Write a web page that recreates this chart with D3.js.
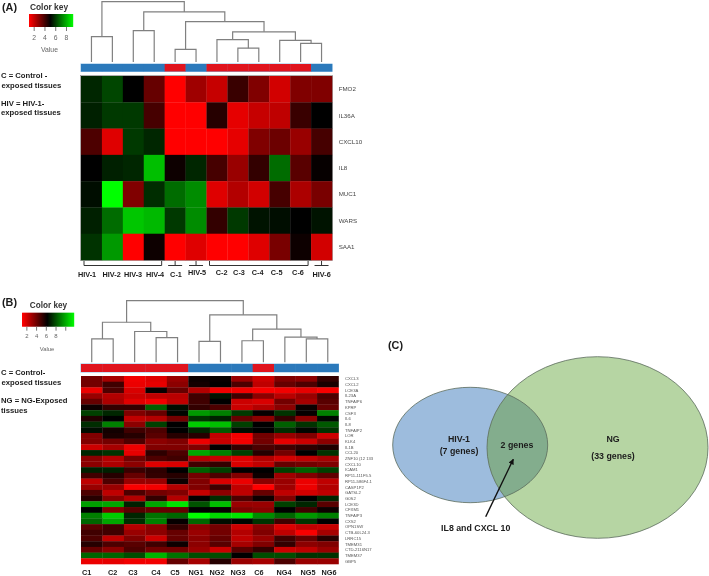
<!DOCTYPE html>
<html><head><meta charset="utf-8">
<script src="https://cdn.jsdelivr.net/npm/d3@7/dist/d3.min.js"></script>
<style>html,body{margin:0;padding:0;background:#fff}svg{display:block;filter:blur(.45px)}text{font-family:"Liberation Sans",Arial,sans-serif}</style>
</head><body><svg id="c" width="709" height="576"></svg>
<script>
const samplesA=["HIV-1","HIV-2","HIV-3","HIV-4","C-1","HIV-5","C-2","C-3","C-4","C-5","C-6","HIV-6"];
const groupsA=["H","H","H","H","C","H","C","C","C","C","C","H"];
const genesA=["FMO2","IL36A","CXCL10","IL8","MUC1","WARS","SAA1"];
const valuesA=[
[5.6,6.1,5.0,3.4,1.0,2.5,1.9,4.1,3.0,1.7,3.0,3.0],
[5.5,5.9,5.9,3.9,1.0,1.0,4.4,1.4,1.9,2.0,4.1,5.0],
[3.8,1.5,5.9,5.6,1.0,1.0,1.0,1.4,3.0,3.3,2.6,3.9],
[5.0,5.5,5.6,8.0,4.8,5.6,3.9,2.6,4.2,6.7,3.6,4.9],
[5.2,9.0,3.0,5.7,6.7,7.2,1.5,2.2,1.7,3.9,2.3,3.1],
[5.5,6.7,8.1,7.9,5.9,7.2,4.2,5.9,5.3,5.2,5.0,5.3],
[5.8,7.4,1.0,4.8,1.0,1.5,1.0,1.0,1.5,3.1,4.8,1.7]];
// dendrogram merges: [left, right, height]; negative = leaf -(i+1), positive = earlier merge index + 1
const mergesA=[[-1,-2,4.2],[-3,-4,5.2],[-5,-6,2.1],[-8,-9,2.3],[-7,4,3.7],[-11,-12,3.1],[-10,6,3.6],[5,7,5.0],[3,8,6.7],[2,9,8.3],[1,10,10]];
const samplesB=["C1","C2","C3","C4","C5","NG1","NG2","NG3","C6","NG4","NG5","NG6"];
const groupsB=["C","C","C","C","C","N","N","N","C","N","N","N"];
const genesB=["CXCL3","CXCL2","LCE3A","IL23A","TNFAIP6","KPRP","CSF3","IL6","IL8","TNFAIP2","LOR","KLK4","IL1B","CCL20","ZNF10 (12 133","CXCL10","ICAM1","RP11-111F5.5","RP11-586F4.1","CASP1P2","GATSL2","G0S2","LCE3D","CFXM1","TNFAIP3","CXS2","OPN1SW","CTB-60L24.3","LRRC15","TMEM31","CTD-2116N17","TMEM37","GBP5"];
const valuesB=[
[3.2,2.4,1.2,1.5,2.6,4.8,4.9,2.6,1.8,3.0,2.8,4.2],
[3.2,4.0,1.3,1.4,2.8,4.7,5.0,3.8,2.0,3.4,3.8,4.6],
[1.3,3.8,1.6,4.9,3.4,2.2,1.3,1.2,1.1,1.2,1.4,1.1],
[2.6,2.2,1.8,2.0,2.1,4.0,5.3,4.0,2.8,2.1,2.6,3.8],
[3.4,2.3,1.5,1.2,2.0,4.0,5.0,1.8,1.6,3.2,2.4,3.6],
[4.8,4.2,4.2,6.5,5.2,4.2,3.8,1.8,2.2,2.8,4.8,3.4],
[6.0,5.6,3.0,3.4,5.1,7.4,7.0,5.9,4.9,5.8,4.9,7.0],
[4.5,5.0,2.0,2.2,3.2,5.8,5.5,3.4,2.8,4.2,2.8,5.1],
[5.7,7.0,2.8,6.0,5.0,8.2,8.0,6.0,5.0,6.5,5.8,6.4],
[5.2,4.7,4.0,3.8,5.0,5.6,6.4,5.2,5.0,5.7,5.1,5.8],
[3.0,4.6,4.4,3.6,4.4,4.4,2.0,1.2,3.2,2.6,3.0,1.8],
[3.0,3.2,3.8,2.8,3.0,1.3,1.9,1.2,3.2,1.4,1.8,2.8],
[1.8,2.4,1.3,3.0,3.0,3.0,5.0,4.2,3.8,4.0,4.3,4.5],
[5.6,5.8,1.4,4.3,3.8,7.6,7.0,6.0,4.4,3.2,5.0,5.8],
[2.8,2.2,3.2,3.8,4.0,2.2,1.9,1.5,2.2,1.7,2.0,2.4],
[2.8,2.3,2.8,1.5,1.6,4.0,4.2,1.6,2.0,3.4,3.2,3.0],
[5.5,5.5,4.1,4.3,5.0,6.5,6.0,5.0,5.0,6.0,6.5,6.0],
[4.0,4.4,3.4,4.2,4.4,3.2,3.8,3.0,4.8,2.5,3.0,3.5],
[2.0,3.8,2.6,2.6,4.8,3.0,1.6,1.3,2.8,2.6,1.3,2.0],
[2.6,2.6,1.1,1.2,2.2,3.0,4.0,2.0,1.0,2.5,1.3,2.2],
[3.8,2.0,3.8,3.2,3.0,1.9,2.8,2.0,3.4,2.0,1.7,2.0],
[4.4,2.9,2.2,4.2,2.2,4.9,5.7,3.8,4.8,3.0,5.0,5.6],
[7.5,7.6,5.5,7.6,8.6,6.3,8.0,2.6,2.6,6.0,5.6,3.6],
[5.0,3.0,3.6,3.4,3.4,5.0,4.9,3.0,2.8,5.0,4.0,4.8],
[7.0,8.2,5.6,6.8,6.6,9.2,8.4,8.6,7.2,6.6,7.4,7.0],
[6.6,7.6,5.7,7.0,4.9,6.6,5.2,5.1,5.8,4.0,5.8,5.0],
[3.6,4.0,2.2,2.8,4.2,2.8,3.2,1.8,2.8,1.6,2.0,1.9],
[4.0,4.0,2.6,2.8,3.4,2.6,3.2,2.2,3.0,2.0,1.1,2.4],
[3.8,2.0,3.0,1.8,3.4,2.8,3.4,2.0,2.6,4.0,3.4,4.4],
[4.4,3.8,3.6,4.0,4.8,2.8,3.6,2.4,3.0,4.2,2.8,3.0],
[3.4,2.8,3.8,3.2,3.2,2.6,1.8,3.6,4.2,1.8,2.0,2.6],
[6.6,6.6,6.2,7.8,6.8,6.2,6.2,5.0,6.2,6.2,5.8,5.8],
[1.3,1.4,1.2,1.2,3.4,2.4,4.4,2.6,2.4,3.8,2.6,2.6]];
const mergesB=[[-1,-2,3.8],[-4,-5,4.0],[-3,2,5.0],[1,3,6.5],[-6,-7,3.4],[-8,-9,3.5],[-11,-12,3.8],[-10,7,4.1],[6,8,5.4],[5,9,7.7],[4,10,10]];
const labelsA=[["HIV-1",87,277],["HIV-2",111.7,277],["HIV-3",133,277],["HIV-4",155,277],["C-1",176,277],["HIV-5",197,275.3],["C-2",221.7,274.8],["C-3",239,274.8],["C-4",257.7,274.8],["C-5",276.7,274.8],["C-6",298,274.8],["HIV-6",321.7,277]];
const labelsB=[["C1",86.7,575],["C2",112.7,575],["C3",133,575],["C4",156,575],["C5",175,574.5],["NG1",196,574.5],["NG2",217,574.5],["NG3",238,574.5],["C6",259,575],["NG4",284,575],["NG5",308,574.5],["NG6",329,574.5]];
const bracketsA=[[0,3],[4,4],[5,5],[6,10],[11,11]];
const keyTicksA=[2,4,6,8], keyTicksB=[2,4,6,8,10];

const svg=d3.select("#c");
const heatColor=d3.scaleLinear().domain([1,5,9]).range(["#ff0000","#000000","#00ff00"]).clamp(true);
const sideCol={H:"#2b79bb",N:"#2b79bb",C:"#e0141e"};

function dendro(merges,x,y,stroke){
  const pos=[];
  const at=r=>r<0?{x:x(-r-1),h:null}:pos[r-1];
  const line=d3.line();
  merges.forEach(([a,b,h])=>{
    const A=at(a),B=at(b);
    const y0=A.h===null?y(0):y(A.h), y1=B.h===null?y(0):y(B.h);
    svg.append("path").attr("d",line([[A.x,y0],[A.x,y(h)],[B.x,y(h)],[B.x,y1]])).attr("fill","none").attr("stroke",stroke).attr("stroke-width",1.2);
    pos.push({x:(A.x+B.x)/2,h});
  });
}
function heat(values,genes,x,y,color,fs,lx,lc){
  values.forEach((row,r)=>row.forEach((v,c)=>{
    svg.append("rect").attr("x",x(c)).attr("y",y(genes[r])).attr("width",x.bandwidth()+.3).attr("height",y.bandwidth()+.3).attr("fill",color(v));
  }));
  svg.append("g").selectAll("text").data(genes).join("text").attr("x",lx).attr("y",d=>y(d)+y.bandwidth()/2).attr("dy",".35em").attr("font-size",fs).attr("fill",lc).text(d=>d);
}
function side(groups,x,y0,h){
  svg.append("rect").attr("x",x.range()[0]-.5).attr("y",y0-.5).attr("width",x.range()[1]-x.range()[0]+1).attr("height",h+1).attr("fill","#8fbfe6");
  groups.forEach((g,i)=>svg.append("rect").attr("x",x(i)).attr("y",y0).attr("width",x.bandwidth()+.3).attr("height",h).attr("fill",sideCol[g]));
}
function key(domain,stops,x0,x1,y0,y1,ticks,pad,fs){
  const s=d3.scaleLinear().domain(domain).range([x0,x1]);
  const col=d3.scaleLinear().domain(stops).range(["#ff0000","#000000","#00ff00"]);
  d3.range(x0,x1,1).forEach(px=>svg.append("rect").attr("x",px).attr("y",y0).attr("width",1.2).attr("height",y1-y0).attr("fill",col(s.invert(px))));
  const ax=d3.axisBottom(s).tickValues(ticks).tickSize(4).tickPadding(pad).tickFormat(d=>d===10?"":d);
  const g=svg.append("g").attr("transform",`translate(0,${y1})`).call(ax);
  g.select(".domain").remove();
  g.selectAll("line").attr("stroke","#777");
  g.selectAll("text").attr("font-size",fs).attr("fill","#666").attr("font-family","Liberation Sans");
  return s;
}
function txt(t,x,y,fs,o={}){
  return svg.append("text").attr("x",x).attr("y",y).attr("font-size",fs).attr("font-weight",o.w||"bold").attr("fill",o.c||"#1c1c1c").attr("text-anchor",o.a||"start").attr("font-family",o.f||null).text(t);
}

/* Panel A */
const xA=d3.scaleBand().domain(d3.range(12)).range([81,332]);
const cxA=i=>xA(i)+xA.bandwidth()/2;
const rowA=d3.scaleBand().domain(genesA).range([76,260]);
dendro(mergesA,cxA,d3.scaleLinear().domain([0,10]).range([62,1.7]),"#808080");
side(groupsA,xA,64,7.5);
svg.append("rect").attr("x",80.5).attr("y",75.5).attr("width",252).attr("height",185).attr("fill","none").attr("stroke","#9a9a9a").attr("stroke-width",.8);
heat(valuesA,genesA,xA,rowA,heatColor,6.2,338.7,"#444");
key([1.13,9.3],[1.13,5,9.3],29,73,14,27,keyTicksA,4,6.8);
txt("Color key",49,10,8.4).attr("text-anchor","middle").attr("fill","#333");
txt("Value",49.5,51.8,6.8,{w:"normal",a:"middle",c:"#666"});
txt("(A)",2,11,10.8);
txt("C = Control -",1,78,7.7);
txt("exposed tissues",1.5,87.5,7.7);
txt("HIV = HIV-1-",1,105.5,7.7);
txt("exposed tissues",1,115,7.7);
bracketsA.forEach(([a,b])=>{
  const multi=a!==b, line=d3.line();
  const y1=265.5;
  if(multi){
    const l=xA(a)+3, r=xA(b)+xA.bandwidth()-3;
    svg.append("path").attr("d",line([[l,261],[l,y1],[r,y1],[r,261]])).attr("fill","none").attr("stroke","#333").attr("stroke-width",1);
  }else{
    const c=cxA(a);
    svg.append("path").attr("d",line([[c,261],[c,y1]])+line([[c-7,y1],[c+7,y1]])).attr("fill","none").attr("stroke","#333").attr("stroke-width",1);
  }
});
svg.append("g").selectAll("text").data(labelsA).join("text").attr("x",d=>d[1]).attr("y",d=>d[2]).attr("text-anchor","middle").attr("font-size",7.3).attr("font-weight","bold").attr("fill","#1c1c1c").text(d=>d[0]);

/* Panel B */
const xB=d3.scaleBand().domain(d3.range(12)).range([81,338.5]);
const cxB=i=>xB(i)+xB.bandwidth()/2;
const rowB=d3.scaleBand().domain(genesB).range([376,564]);
dendro(mergesB,cxB,d3.scaleLinear().domain([0,10]).range([362.3,300.7]),"#808080");
side(groupsB,xB,364,8);
heat(valuesB,genesB,xB,rowB,heatColor,4.2,345,"#555");
key([1.1,11.8],[1.1,6.2,11.8],22,74,312.7,326.7,keyTicksB,3.5,6);
txt("Color key",48.5,308.3,8.2).attr("text-anchor","middle").attr("fill","#333");
txt("Value",47,351.3,5.9,{w:"normal",a:"middle",c:"#666"});
txt("(B)",2,306,10.8);
txt("C = Control-",1,375,7.7);
txt("exposed tissues",1.5,384.5,7.7);
txt("NG = NG-Exposed",1,402.7,7.7);
txt("tissues",1,412.5,7.7);
svg.append("g").selectAll("text").data(labelsB).join("text").attr("x",d=>d[1]).attr("y",d=>d[2]).attr("text-anchor","middle").attr("font-size",7.3).attr("font-weight","bold").attr("fill","#1c1c1c").text(d=>d[0]);

/* Panel C */
const vennSets=[{n:"HIV-1",cx:470.2,cy:445,rx:77.5,ry:57.7,f:"#9dbcdd"},{n:"NG",cx:597.5,cy:447.5,rx:110.5,ry:90.8,f:"#b6d5a3"}];
const defs=svg.append("defs");
defs.append("clipPath").attr("id","cb").append("ellipse").attr("cx",vennSets[0].cx).attr("cy",vennSets[0].cy).attr("rx",vennSets[0].rx).attr("ry",vennSets[0].ry);
defs.append("marker").attr("id","ah").attr("viewBox","0 0 10 10").attr("refX",9).attr("refY",5).attr("markerWidth",4).attr("markerHeight",4).attr("orient","auto").append("path").attr("d","M0,0L10,5L0,10z").attr("fill","#111");
svg.selectAll(".v").data(vennSets).join("ellipse").attr("class","v").attr("cx",d=>d.cx).attr("cy",d=>d.cy).attr("rx",d=>d.rx).attr("ry",d=>d.ry).attr("fill",d=>d.f);
svg.append("ellipse").datum(vennSets[1]).attr("clip-path","url(#cb)").attr("cx",d=>d.cx).attr("cy",d=>d.cy).attr("rx",d=>d.rx).attr("ry",d=>d.ry).attr("fill","#83ad8d");
svg.selectAll(".o").data(vennSets).join("ellipse").attr("class","o").attr("cx",d=>d.cx).attr("cy",d=>d.cy).attr("rx",d=>d.rx).attr("ry",d=>d.ry).attr("fill","none").attr("stroke","#5a6b5c").attr("stroke-width",.8);
svg.append("path").attr("d",d3.line()([[485.7,516.7],[513.3,459.3]])).attr("stroke","#111").attr("stroke-width",1.4).attr("marker-end","url(#ah)").attr("fill","none");
const cf='"Open Sans",sans-serif';
txt("(C)",388,349,10.8);
txt("HIV-1",459,442,8.8,{a:"middle",f:cf,w:600});
txt("(7 genes)",459,454,8.8,{a:"middle",f:cf,w:600});
txt("2 genes",517,448,8.8,{a:"middle",f:cf,w:600});
txt("NG",613,442,8.8,{a:"middle",f:cf,w:600});
txt("(33 genes)",613,459,8.8,{a:"middle",f:cf,w:600});
txt("IL8 and CXCL 10",475.7,531,8.8,{a:"middle",f:cf,w:600});
</script></body></html>
